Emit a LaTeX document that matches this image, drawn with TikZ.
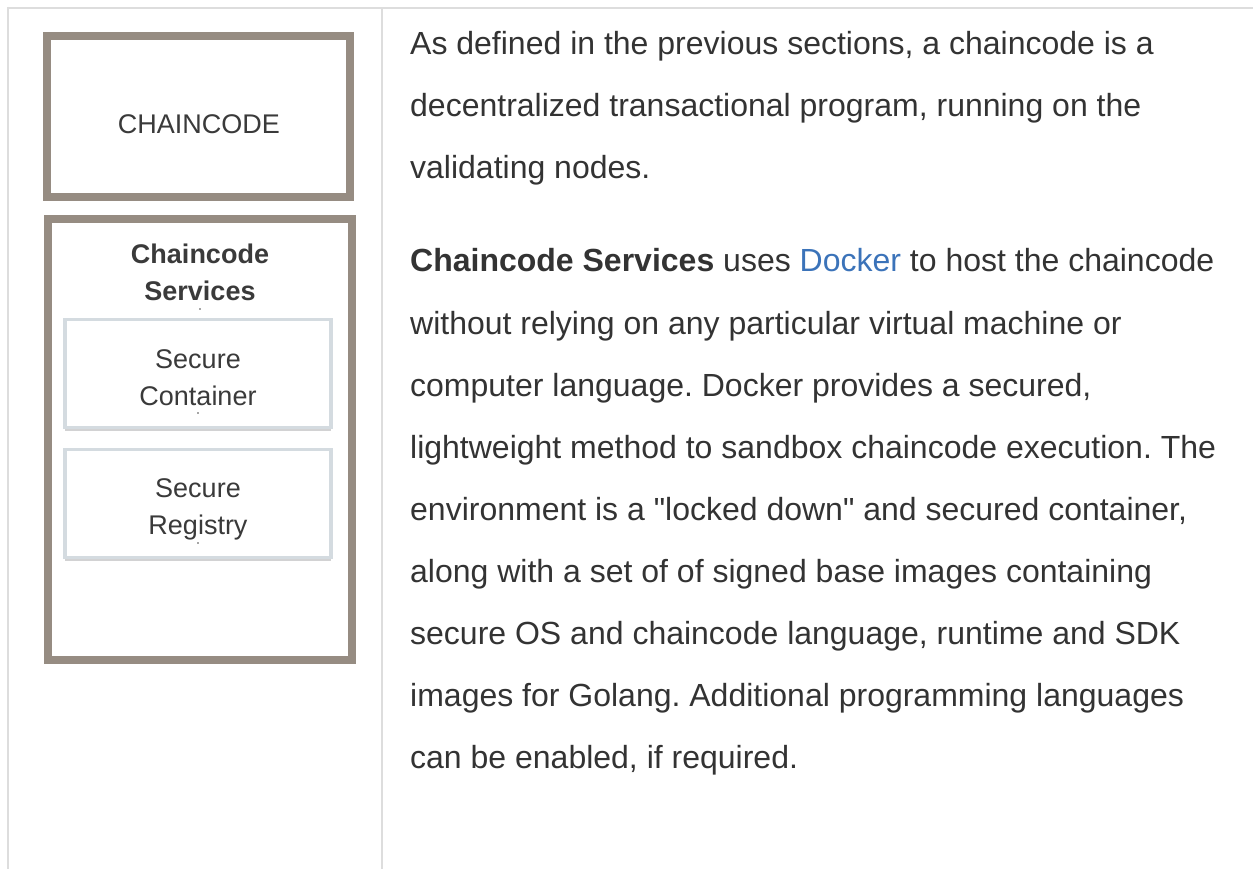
\documentclass[tikz,border=0pt]{standalone}
\usepackage{fontspec}
\setmainfont{Liberation Sans}[Ligatures=TeXOff]
\usetikzlibrary{shadows}
\frenchspacing

\definecolor{bodytext}{HTML}{333333}
\definecolor{boxtext}{HTML}{3A3A3A}
\definecolor{link}{HTML}{3B73B9}
\definecolor{rule}{HTML}{DDDDDD}
\definecolor{frame}{RGB}{150,140,130}
\definecolor{innerframe}{RGB}{212,219,224}

\tikzset{
  tablerule/.style={draw=rule, line width=2pt},
  outerbox/.style={draw=frame, line width=8pt, fill=white,
    drop shadow={shadow xshift=0pt, shadow yshift=-4pt, opacity=0.25, fill=black!70}},
  innerbox/.style={draw=innerframe, line width=3.5pt, fill=white,
    minimum width=266pt, minimum height=108pt,
    drop shadow={shadow xshift=0pt, shadow yshift=-3pt, opacity=0.3, fill=black!50!innerframe}},
  boxlabel/.style={text=boxtext, font=\fontsize{27}{37}\selectfont, align=center, inner sep=0pt},
  textline/.style={anchor=base west, inner sep=0pt, text=bodytext,
    font=\fontsize{32}{40}\selectfont},
  speck/.style={fill=black!70, draw=none}
}

\begin{document}
\begin{tikzpicture}[x=1pt, y=-1pt]
\useasboundingbox (0,0) rectangle (1253,869);

% table rules
\draw[tablerule] (7,7.7) -- (1253,7.7);
\draw[tablerule] (7.7,7) -- (7.7,869);
\draw[tablerule] (381.5,7.7) -- (381.5,869);

% left column: component stack
\node[outerbox, minimum width=303pt, minimum height=161pt] (cc) at (198.5,117) {};
\node[boxlabel] (cclabel) at (199,124) {CHAINCODE};

\node[outerbox, minimum width=304pt, minimum height=441pt] (svc) at (200,439.5) {};
\node[boxlabel, font=\bfseries\fontsize{27}{37}\selectfont] (svclabel) at (200,272) {Chaincode\\Services};

\node[innerbox] (cont) at (198,373.5) {};
\node[boxlabel] (contlabel) at (198,378) {Secure\\Container};

\node[innerbox] (reg) at (198,503.5) {};
\node[boxlabel] (reglabel) at (198,509.5) {Secure\\Registry};

\fill[speck] (200,309) circle (0.9);
\fill[speck] (198,413) circle (0.9);
\fill[speck] (198,543) circle (0.9);

% right column: description
\node[textline] (p1a) at (410,55)  {As defined in the previous sections, a chaincode is a};
\node[textline] (p1b) at (410,117) {decentralized transactional program, running on the};
\node[textline] (p1c) at (410,179) {validating nodes.};

\node[textline] (p2a) at (410,272) {\textbf{Chaincode Services} uses {\color{link}Docker} to host the chaincode};
\node[textline] (p2b) at (410,334) {without relying on any particular virtual machine or};
\node[textline] (p2c) at (410,396) {computer language. Docker provides a secured,};
\node[textline] (p2d) at (410,458) {lightweight method to sandbox chaincode execution. The};
\node[textline] (p2e) at (410,520) {environment is a "locked down" and secured container,};
\node[textline] (p2f) at (410,582) {along with a set of of signed base images containing};
\node[textline] (p2g) at (410,644) {secure OS and chaincode language, runtime and SDK};
\node[textline] (p2h) at (410,706) {images for Golang. Additional programming languages};
\node[textline] (p2i) at (410,768) {can be enabled, if required.};
\end{tikzpicture}
\end{document}
